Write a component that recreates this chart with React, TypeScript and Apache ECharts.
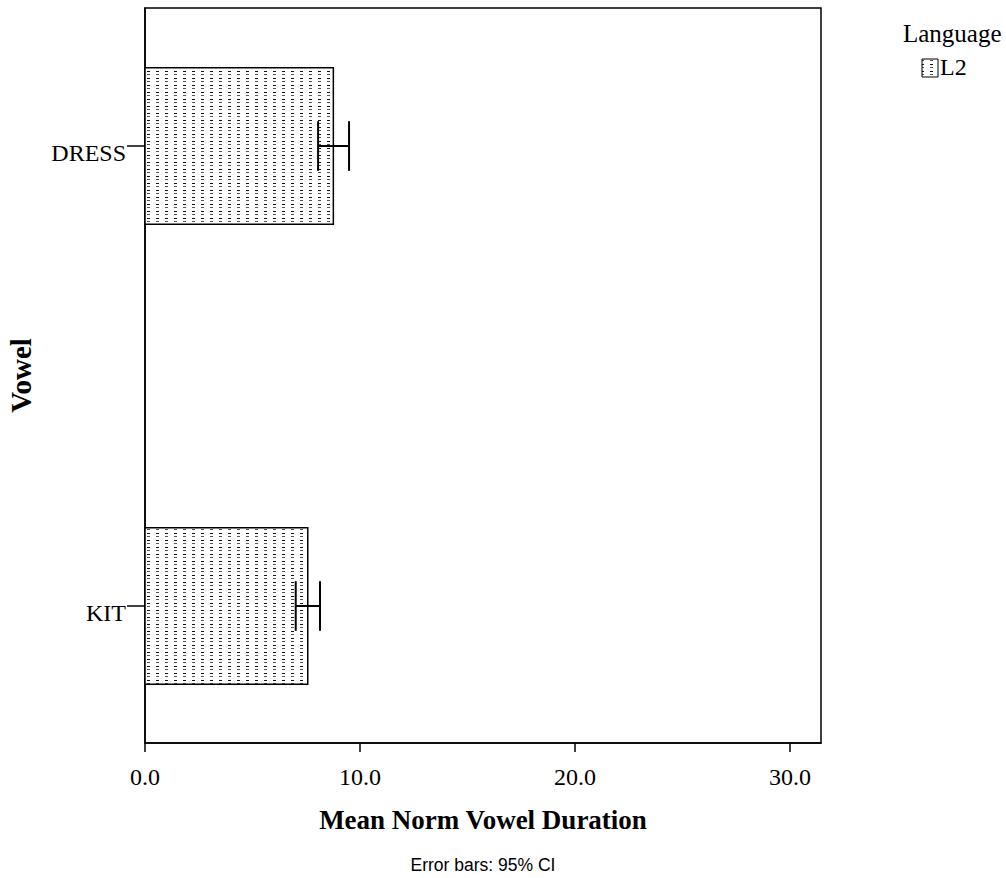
import React, { useEffect, useRef } from "react";
import * as echarts from "echarts";

const categories = ["KIT", "DRESS"];
const means = [7.57, 8.76];
const ciLow = [7.01, 8.05];
const ciHigh = [8.14, 9.49];
const xTicks = [0, 10, 20, 30];
const legendTitle = "Language";
const seriesName = "L2";

function makePattern(): HTMLCanvasElement {
  const c = document.createElement("canvas");
  c.width = 9;
  c.height = 7;
  const ctx = c.getContext("2d")!;
  ctx.fillStyle = "#ffffff";
  ctx.fillRect(0, 0, 9, 7);
  const rows = [1, 4];
  rows.forEach((y, i) => {
    ctx.fillStyle = i % 2 ? "#555555" : "#111111";
    ctx.fillRect(3, y, 3, 1);
  });
  return c;
}

export default function App() {
  const ref = useRef<HTMLDivElement>(null);
  useEffect(() => {
    if (!ref.current) return;
    const chart = echarts.init(ref.current, undefined, { renderer: "svg" });
    const pattern = { image: makePattern(), repeat: "repeat" };
    const serif = "Liberation Serif";
    const barHalf = 0.17;
    const capHalf = 0.054;
    const data = categories.map((c, i) => [means[i], i, ciLow[i], ciHigh[i]]);

    chart.setOption({
      animation: false,
      backgroundColor: "#ffffff",
      grid: {
        left: 145,
        top: 8,
        width: 676,
        height: 735,
        containLabel: false,
        outerBoundsMode: "none",
        show: true,
        borderColor: "#000",
        borderWidth: 1.5,
        backgroundColor: "transparent",
      },
      xAxis: {
        type: "value",
        min: 0,
        max: 31.44,
        interval: 10,
        splitLine: { show: false },
        axisLine: { show: true, onZero: false, lineStyle: { color: "#000", width: 1.5 } },
        axisTick: {
          show: true,
          length: 9,
          customValues: xTicks,
          lineStyle: { color: "#000", width: 1.5 },
        },
        axisLabel: {
          customValues: xTicks,
          formatter: (v: number) => v.toFixed(1),
          fontFamily: serif,
          fontSize: 24,
          color: "#000",
          margin: 22,
        },
        name: "Mean Norm Vowel Duration",
        nameLocation: "middle",
        nameGap: 63,
        nameTextStyle: { fontFamily: serif, fontSize: 27, fontWeight: "bold", color: "#000" },
      },
      yAxis: {
        type: "value",
        min: -0.2978,
        max: 1.3,
        splitLine: { show: false },
        axisLine: { show: true, onZero: false, lineStyle: { color: "#000", width: 1.5 } },
        axisTick: {
          show: true,
          length: 18,
          customValues: [0, 1],
          lineStyle: { color: "#000", width: 1.5 },
        },
        axisLabel: {
          customValues: [0, 1],
          formatter: (v: number) => categories[Math.round(v)] ?? "",
          fontFamily: serif,
          fontSize: 24,
          color: "#000",
          margin: 19,
          verticalAlign: "top",
          lineHeight: 14,
        },
        name: "Vowel",
        nameLocation: "middle",
        nameGap: 110,
        nameTextStyle: { fontFamily: serif, fontSize: 29, fontWeight: "bold", color: "#000" },
      },
      graphic: [
        {
          type: "text",
          left: 903,
          top: 21,
          style: { text: legendTitle, font: `25px "${serif}"`, fill: "#000" },
        },
        {
          type: "rect",
          shape: { x: 922, y: 59, width: 16, height: 18 },
          style: { fill: pattern as any, stroke: "#000", lineWidth: 1 },
        },
        {
          type: "text",
          left: 940,
          top: 55,
          style: { text: seriesName, font: `24px "${serif}"`, fill: "#000" },
        },
        {
          type: "text",
          x: 483,
          y: 865,
          style: {
            text: "Error bars: 95% CI",
            font: '17.5px "Liberation Sans"',
            fill: "#000",
            align: "center",
            verticalAlign: "middle",
          },
        },
      ],
      series: [
        {
          type: "custom",
          name: seriesName,
          data,
          encode: { x: 0, y: 1 },
          renderItem: (params: any, api: any) => {
            const v = api.value(0);
            const i = api.value(1);
            const lo = api.value(2);
            const hi = api.value(3);
            const base = api.coord([0, i]);
            const end = api.coord([v, i]);
            const top = api.coord([0, i + barHalf])[1];
            const bottom = api.coord([0, i - barHalf])[1];
            const capTop = api.coord([0, i + capHalf])[1];
            const capBottom = api.coord([0, i - capHalf])[1];
            const xLo = api.coord([lo, i])[0];
            const xHi = api.coord([hi, i])[0];
            const cy = base[1];
            const lineStyle = { stroke: "#000", lineWidth: 2 };
            return {
              type: "group",
              children: [
                {
                  type: "rect",
                  shape: { x: base[0], y: top, width: end[0] - base[0], height: bottom - top },
                  style: { fill: pattern, stroke: "#000", lineWidth: 1.5 },
                },
                { type: "line", shape: { x1: xLo, y1: cy, x2: xHi, y2: cy }, style: lineStyle },
                { type: "line", shape: { x1: xLo, y1: capTop, x2: xLo, y2: capBottom }, style: lineStyle },
                { type: "line", shape: { x1: xHi, y1: capTop, x2: xHi, y2: capBottom }, style: lineStyle },
              ],
            };
          },
        },
      ],
    });
    return () => chart.dispose();
  }, []);
  return <div ref={ref} style={{ width: 1006, height: 878, position: "absolute", left: 0, top: 0 }} />;
}
